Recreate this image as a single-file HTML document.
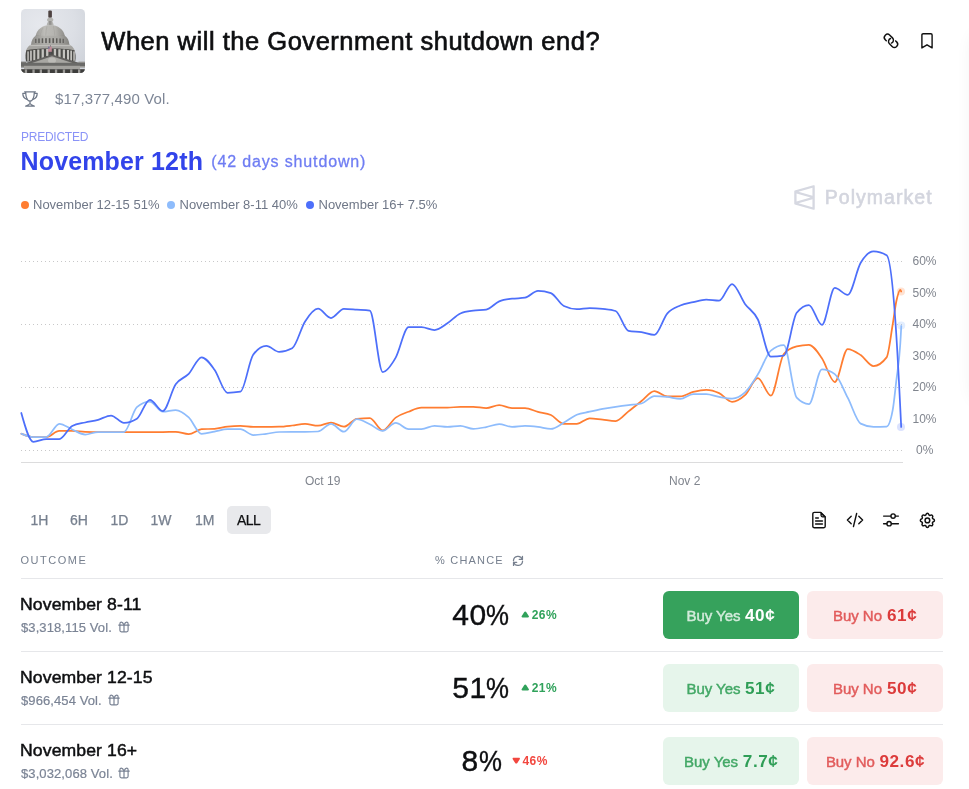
<!DOCTYPE html>
<html lang="en"><head><meta charset="utf-8"><title>When will the Government shutdown end?</title>
<style>
*{box-sizing:border-box;margin:0;padding:0}
html,body{width:969px;height:789px;background:#fff;overflow:hidden}
body{position:relative;font-family:"Liberation Sans",sans-serif;color:#0e0f11}
.abs{position:absolute;white-space:nowrap;line-height:1}
.title{left:101.3px;top:28.7px;font-size:25.5px;letter-spacing:.52px;color:#0e0f11;-webkit-text-stroke:.65px #0e0f11}
.vol{left:55px;top:91px;font-size:15px;letter-spacing:.14px;color:#7d8696}
.pred{left:21px;top:131px;font-size:12px;color:#8a93f7;letter-spacing:-.25px}
.date{left:20.5px;top:148.8px;font-size:25px;font-weight:700;color:#3244ea;letter-spacing:.15px;transform:scaleY(1.055);transform-origin:0 84%}
.days{left:211.3px;top:153.9px;font-size:16px;color:#6f7df3;letter-spacing:.85px;-webkit-text-stroke:.3px #6f7df3}
.leg{top:198px;font-size:13px;color:#6f7787}
.dot{position:absolute;width:8px;height:8px;border-radius:50%;top:201px}
.wm{left:824.7px;top:187.7px;font-size:19.5px;font-weight:400;color:#d3d5de;letter-spacing:1.05px;-webkit-text-stroke:.6px #d3d5de}
.ax{font-size:12px;color:#80858e}
.tb{top:513px;font-size:14px;color:#77808f;-webkit-text-stroke:.25px #77808f}
.all{position:absolute;left:227px;top:506px;width:43.5px;height:28px;border-radius:5px;background:#e8e9ec}
.th{top:555px;font-size:11px;letter-spacing:1.5px;color:#77808f}
.hr{position:absolute;left:21px;width:922px;height:1px;background:#e6e7ea}
.name{left:20.3px;font-size:16px;letter-spacing:.1px;transform:scaleX(1.1);transform-origin:0 50%;color:#0e0f11;-webkit-text-stroke:.45px #0e0f11}
.sub{left:21px;font-size:13px;letter-spacing:.1px;color:#7b8495;-webkit-text-stroke:.2px #7b8495}
.pct i{font-style:normal;display:inline-block;transform:scaleX(.86);transform-origin:0 50%}
.pct{font-size:30px;letter-spacing:.4px;color:#0e0f11;-webkit-text-stroke:.4px #0e0f11}
.chg{font-size:12px;font-weight:700;letter-spacing:.45px}
.g{color:#30a25b} .r{color:#f2473f}
.btn{position:absolute;width:136px;height:48px;border-radius:6px;display:flex;align-items:center;justify-content:center;white-space:nowrap;font-size:15px;font-weight:400;-webkit-text-stroke:.45px;padding-top:.6px;letter-spacing:-.05px}
.btn b{font-size:16px;letter-spacing:.5px;margin:0 .8px 0 6px;font-weight:700;-webkit-text-stroke:0;display:inline-block;transform:scaleX(1.07);position:relative;top:.9px}
.yes{left:663px;background:#e6f5eb;color:#43a866} .yes b{color:#2f9e57}
.yes.on{background:#36a25c;color:#d3ebdb} .yes.on b{color:#fff}
.no{left:807px;background:#fcebeb;color:#e25c5c} .no b{color:#dc3b3b}
svg{position:absolute;overflow:visible}
</style></head><body>

<!-- right edge faint shadow of neighbouring card -->
<div style="position:absolute;left:973px;top:34px;width:40px;height:366px;border-radius:10px;box-shadow:0 0 18px rgba(0,0,0,.07)"></div>

<svg style="left:21px;top:9px" width="64" height="64" viewBox="0 0 64 64">
<defs>
<clipPath id="cp"><rect width="64" height="64" rx="4.500"/></clipPath>
<radialGradient id="sky" cx=".3" cy=".25" r=".9"><stop offset="0" stop-color="#e6e8ed"/><stop offset=".6" stop-color="#dcdfe5"/><stop offset="1" stop-color="#cfd3da"/></radialGradient>
<linearGradient id="dm" x1="0" y1="0" x2="1" y2="0"><stop offset="0" stop-color="#9c9b97"/><stop offset=".3" stop-color="#bdbcb8"/><stop offset=".65" stop-color="#b5b4b0"/><stop offset="1" stop-color="#8f8e8a"/></linearGradient>
<linearGradient id="dr" x1="0" y1="0" x2="1" y2="0"><stop offset="0" stop-color="#8e8d89"/><stop offset=".35" stop-color="#b3b2ae"/><stop offset=".7" stop-color="#a9a8a4"/><stop offset="1" stop-color="#84837f"/></linearGradient>
<filter id="bl" x="-10%" y="-10%" width="120%" height="120%"><feGaussianBlur stdDeviation=".6"/></filter>
</defs>
<g clip-path="url(#cp)">
<rect width="64" height="64" fill="url(#sky)"/>
<g filter="url(#bl)">
<!-- statue -->
<rect x="27.300" y="1.500" width="3.600" height="7.400" rx="1.100" fill="#4d4241"/>
<!-- lantern -->
<path d="M25.700 16.600c.2-2 .9-3.300 1.500-3.800c-1.300-.700-1.800-2.700-.2-3.600c.300-.500 1-.800 2.200-.800s1.900.300 2.200.800c1.600.900 1.100 2.900-.2 3.600c.600.500 1.300 1.800 1.500 3.800z" fill="#b3b3b0"/>
<rect x="27.900" y="12" width="2.600" height="3.800" fill="#93928f"/>
<!-- dome -->
<path d="M14.600 27.400C15.400 20.600 21.500 16 29.200 16s13.800 4.600 14.700 11.400z" fill="url(#dm)"/>
<g stroke="#a2a19d" stroke-width=".5" fill="none"><path d="M22 18.800c-1.500 2.400-2.400 5.200-2.700 8M26 17.200c-.8 3-1.200 6.200-1.300 9.600M32.400 17.200c.8 3 1.200 6.200 1.300 9.600M36.400 18.800c1.500 2.400 2.400 5.200 2.700 8"/></g>
<path d="M14.800 26.800c4.400 1.300 24.400 1.300 28.900 0" stroke="#8b8a86" stroke-width="1" fill="none"/>
<!-- upper drum -->
<path d="M10 36c.2-4.400 2.200-7.600 4.600-9.200h29.200c2.600 1.600 4.400 4.800 4.600 9.200z" fill="url(#dr)"/>
<g fill="#5b5a57"><rect x="14.200" y="29.800" width="1.200" height="4.200"/><rect x="17.300" y="29.500" width="1.400" height="4.600"/><rect x="20.700" y="29.300" width="1.500" height="4.800"/><rect x="24.200" y="29.200" width="1.600" height="4.900"/><rect x="27.800" y="29.200" width="1.600" height="4.900"/><rect x="31.400" y="29.200" width="1.600" height="4.900"/><rect x="35" y="29.300" width="1.500" height="4.800"/><rect x="38.400" y="29.500" width="1.400" height="4.600"/><rect x="41.600" y="29.800" width="1.200" height="4.200"/></g>
<!-- cornice -->
<path d="M4.800 42c1-3.400 3.400-5.800 5.200-6.600h38.400c1.800.8 4.400 3.200 5.600 6.600z" fill="#a5a4a0"/>
<path d="M8.600 36.600h41.200" stroke="#c2c1bd" stroke-width="1"/>
<!-- peristyle -->
<path d="M5 52.400c-.8-4.400-.6-8.400.4-11.200c8-2.400 40-2.400 48 0c1.200 2.800 1.600 6.800.8 11.200z" fill="#4c4b48"/>
<g fill="#c4c3bf"><rect x="6.300" y="42.400" width="1.500" height="9.400"/><rect x="9.100" y="41.600" width="1.700" height="10.200"/><rect x="12.300" y="41" width="2" height="10.400"/><rect x="16.200" y="40.500" width="2.200" height="10"/><rect x="20.600" y="40.200" width="2.300" height="8.800"/><rect x="25.100" y="40" width="2.300" height="7"/><rect x="32.800" y="40" width="2.300" height="7"/><rect x="37.300" y="40.200" width="2.300" height="8.800"/><rect x="41.800" y="40.500" width="2.200" height="10"/><rect x="46" y="41" width="2" height="10.400"/><rect x="49.300" y="41.600" width="1.700" height="10.200"/><rect x="52.300" y="42.400" width="1.500" height="9.400"/></g>
<!-- flag -->
<rect x="29.100" y="36" width=".5" height="10" fill="#55565c"/>
<rect x="27" y="37.600" width="3.800" height="5.200" fill="#c08a96"/><rect x="27" y="37.600" width="1.600" height="2.200" fill="#737896"/>
<!-- wings -->
<rect x="0" y="52.600" width="5" height="6" fill="#7c7b78"/><rect x="57.500" y="52.600" width="6.500" height="6" fill="#9a9996"/>
<!-- pediment -->
<path d="M3 54.600L31 45.400L60 54.600z" fill="#62615e"/>
<path d="M9.500 54.400L31 47.200L53 54.400z" fill="#a8a7a3"/>
<ellipse cx="31" cy="51.400" rx="4" ry="3" fill="#bcbbb7"/>
<!-- entablature -->
<rect x="0" y="53.800" width="64" height="3.200" fill="#6b6a67"/>
<rect x="3" y="56.800" width="56" height="3.600" fill="#a3a29e"/>
<rect x="0" y="60.200" width="64" height="3.800" fill="#3d3c3a"/>
<g fill="#9c9b98"><rect x="3.800" y="60.400" width="2.300" height="3.600"/><rect x="11.400" y="60.400" width="2.300" height="3.600"/><rect x="18.700" y="60.400" width="2.300" height="3.600"/><rect x="26.600" y="60.400" width="2.300" height="3.600"/><rect x="33.900" y="60.400" width="2.300" height="3.600"/><rect x="41.800" y="60.400" width="2.300" height="3.600"/><rect x="49.100" y="60.400" width="2.300" height="3.600"/><rect x="57" y="60.400" width="2.300" height="3.600"/></g>
</g>
</g>
</svg>


<div class="abs title">When will the Government shutdown end?</div>

<!-- link + bookmark icons -->
<svg style="left:879px;top:29px" width="24" height="24" viewBox="0 0 24 24" fill="none" stroke="#111" stroke-width="1.45" stroke-linecap="round" stroke-linejoin="round">
<path transform="translate(9.9 9.8) rotate(45)" d="M-0.50 3.2L-1.9 3.2A3.2 3.2 0 0 1 -1.9 -3.2L1.9 -3.2A3.2 3.2 0 0 1 4.85 1.25"/>
<path transform="translate(14.05 13.8) rotate(225)" d="M-0.50 3.2L-1.9 3.2A3.2 3.2 0 0 1 -1.9 -3.2L1.9 -3.2A3.2 3.2 0 0 1 4.85 1.25"/>
</svg>
<svg style="left:921px;top:33px" width="12" height="16" viewBox="0 0 12 16" fill="none" stroke="#111" stroke-width="1.4" stroke-linejoin="round">
<path d="M.9 1.9a1.2 1.2 0 0 1 1.2-1.2h7.8a1.2 1.2 0 0 1 1.2 1.2v13l-5.1-3.1l-5.1 3.1z"/>
</svg>

<!-- trophy -->
<svg style="left:22px;top:91px" width="16" height="16" viewBox="0 0 16 16" fill="none" stroke="#6f7887" stroke-width="1.25" stroke-linecap="round" stroke-linejoin="round">
<path d="M2.600 .9H13.400M3.600 .9C3.800 5 4.800 10.200 8 10.200S12.200 5 12.400 .9"/>
<path d="M3.500 2.300H.8C.8 5.200 2 7.600 5 8.300M12.500 2.300H15.200C15.200 5.200 14 7.600 11 8.300"/>
<path d="M8 10.200V12.600M8 12.400C7.600 13.600 5.600 14.400 3.700 15.200H12.300C10.400 14.400 8.400 13.600 8 12.400z"/>
</svg>
<div class="abs vol">$17,377,490 Vol.</div>

<div class="abs pred">PREDICTED</div>
<div class="abs date">November 12th</div>
<div class="abs days">(42 days shutdown)</div>

<span class="dot" style="left:21px;background:#ff7d31"></span><div class="abs leg" style="left:33px">November 12-15 51%</div>
<span class="dot" style="left:167px;background:#8ebcfc"></span><div class="abs leg" style="left:179.5px">November 8-11 40%</div>
<span class="dot" style="left:306px;background:#4d6ffa"></span><div class="abs leg" style="left:318.5px">November 16+ 7.5%</div>

<!-- watermark -->
<svg style="left:794px;top:184.5px" width="21" height="25" viewBox="108 94 270 324"><path fill="#d6d8e1" fill-rule="evenodd" d="M375.84 389.422C375.84 403.572 375.84 410.647 371.212 414.154C366.585 417.662 359.773 415.75 346.15 411.927L127.22 350.493C119.012 348.19 114.907 347.038 112.534 343.907C110.161 340.776 110.161 336.513 110.161 327.988V184.012C110.161 175.487 110.161 171.224 112.534 168.093C114.907 164.962 119.012 163.81 127.22 161.507L346.15 100.072C359.773 96.2495 366.585 94.338 371.212 97.8455C375.84 101.353 375.84 108.428 375.84 122.578V389.422ZM164.761 330.463L346.035 381.337V279.595L164.761 330.463ZM139.963 306.862L321.201 256L139.963 205.138V306.862ZM164.759 181.537L346.035 232.406V130.663L164.759 181.537Z"/></svg>
<div class="abs wm">Polymarket</div>

<!-- chart -->
<svg style="left:0;top:0" width="969" height="789" viewBox="0 0 969 789" fill="none">
<g stroke="#c8c8c9" stroke-width="1" stroke-dasharray="1 3">
<path d="M21 261.5H903M21 324.5H903M21 387.5H903M21 450.5H903"/>
</g>
<path d="M21 462.5H903" stroke="#dcdcdd" stroke-width="1"/>
<g stroke-width="1.75" stroke-linejoin="round" stroke-linecap="round">
<path stroke="#ff7d31" d="M21.3,433.7C25.3,435.3,29.4,437.0,33.4,437.0C37.7,437.0,42.0,437.0,46.3,437.0C50.7,437.0,55.0,430.9,59.3,430.9C63.6,430.9,67.9,430.9,72.2,430.9C76.5,430.9,80.8,431.7,85.2,431.8C89.5,431.9,93.8,432.0,98.1,432.0C102.4,432.0,106.7,432.0,111.0,432.0C115.3,432.0,119.7,432.0,124.0,432.0C128.3,432.0,132.6,432.0,136.9,432.0C141.2,432.0,145.5,432.0,149.8,432.0C154.2,432.0,158.5,432.0,162.8,432.0C167.1,432.0,171.4,431.8,175.7,431.8C180.0,431.8,184.3,434.1,188.7,434.1C193.0,434.1,197.3,429.5,201.6,429.2C205.9,428.9,210.2,429.1,214.5,428.8C218.8,428.5,223.2,427.2,227.5,426.7C231.8,426.2,236.1,425.9,240.4,425.9C244.7,425.9,249.0,426.9,253.3,426.9C257.7,426.9,262.0,426.9,266.3,426.9C270.6,426.9,274.9,426.8,279.2,426.7C283.5,426.6,287.8,426.0,292.2,425.5C296.5,425.0,300.8,423.9,305.1,423.9C309.4,423.9,313.7,425.7,318.0,425.7C322.3,425.7,326.7,422.6,331.0,422.6C335.3,422.6,339.6,426.7,343.9,426.7C348.2,426.7,352.5,419.3,356.8,418.8C361.2,418.3,365.5,418.0,369.8,418.0C374.1,418.0,378.4,430.4,382.7,430.4C387.0,430.4,391.4,420.7,395.7,417.6C400.0,414.5,404.3,413.3,408.6,411.7C412.9,410.0,417.2,407.7,421.5,407.7C425.9,407.7,430.2,407.7,434.5,407.7C438.8,407.7,443.1,407.7,447.4,407.7C451.7,407.7,456.0,406.8,460.4,406.8C464.7,406.8,469.0,406.8,473.3,406.8C477.6,406.8,481.9,408.1,486.2,408.1C490.5,408.1,494.9,405.1,499.2,405.1C503.5,405.1,507.8,408.1,512.1,408.1C516.4,408.1,520.7,408.1,525.0,408.1C529.4,408.1,533.7,410.8,538.0,411.9C542.3,413.0,546.6,413.0,550.9,415.0C555.2,417.0,559.5,423.8,563.9,423.8C568.2,423.8,572.5,423.8,576.8,423.8C581.1,423.8,585.4,418.3,589.7,418.3C594.0,418.3,598.4,419.2,602.7,419.6C607.0,420.1,611.3,421.0,615.6,421.0C619.9,421.0,624.2,414.7,628.5,411.4C632.9,408.1,637.2,404.4,641.5,401.0C645.8,397.6,650.1,391.1,654.4,391.1C658.7,391.1,663.0,396.4,667.4,396.4C671.7,396.4,676.0,396.4,680.3,396.4C684.6,396.4,688.9,393.0,693.2,391.9C697.6,390.8,701.9,389.8,706.2,389.8C710.5,389.8,714.8,391.1,719.1,393.1C723.4,395.1,727.7,401.8,732.1,401.8C736.4,401.8,740.7,399.1,745.0,395.2C749.3,391.3,753.6,378.2,757.9,378.2C762.2,378.2,766.6,395.7,770.9,395.7C775.2,395.7,779.5,359.1,783.8,354.0C788.1,348.9,792.4,347.5,796.7,346.4C800.8,345.3,804.9,344.8,808.9,344.8C813.2,344.8,817.6,352.0,821.9,358.2C826.2,364.4,830.5,382.0,834.8,382.0C839.1,382.0,843.4,349.0,847.7,349.0C852.1,349.0,856.4,352.2,860.7,355.1C865.0,358.0,869.3,366.1,873.6,366.1C877.9,366.1,882.2,363.2,886.6,357.4C888.6,354.7,890.6,337.0,892.6,325.0C893.9,317.5,895.1,306.9,896.4,301.0C897.7,295.1,898.9,289.8,900.2,289.8C900.5,289.8,900.9,290.6,901.2,291.5"/>
<path stroke="#8ebcfc" d="M21.3,433.7C25.3,435.3,29.4,437.0,33.4,437.0C37.7,437.0,42.0,437.0,46.3,437.0C50.7,437.0,55.0,423.8,59.3,423.8C63.6,423.8,67.9,427.7,72.2,429.5C76.5,431.3,80.8,434.5,85.2,434.5C89.5,434.5,93.8,432.0,98.1,432.0C102.4,432.0,106.7,432.0,111.0,432.0C115.3,432.0,119.7,432.0,124.0,432.0C128.3,432.0,132.6,411.0,136.9,407.2C141.2,403.4,145.5,401.5,149.8,401.5C154.2,401.5,158.5,411.7,162.8,411.7C167.1,411.7,171.4,410.0,175.7,410.0C180.0,410.0,184.3,413.3,188.7,417.3C193.0,421.3,197.3,433.8,201.6,433.8C205.9,433.8,210.2,432.4,214.5,431.6C218.8,430.8,223.2,429.2,227.5,429.2C231.8,429.2,236.1,429.2,240.4,429.2C244.7,429.2,249.0,435.1,253.3,435.1C257.7,435.1,262.0,434.3,266.3,433.8C270.6,433.3,274.9,432.1,279.2,432.0C283.5,431.9,287.8,431.8,292.2,431.8C296.5,431.8,300.8,431.8,305.1,431.8C309.4,431.8,313.7,431.7,318.0,431.5C322.3,431.3,326.7,423.8,331.0,423.8C335.3,423.8,339.6,431.7,343.9,431.7C348.2,431.7,352.5,419.1,356.8,419.1C361.2,419.1,365.5,422.3,369.8,424.3C374.1,426.3,378.4,430.9,382.7,430.9C387.0,430.9,391.4,422.9,395.7,422.9C400.0,422.9,404.3,429.0,408.6,429.0C412.9,429.0,417.2,429.0,421.5,429.0C425.9,429.0,430.2,425.9,434.5,425.9C438.8,425.9,443.1,426.9,447.4,426.9C451.7,426.9,456.0,425.9,460.4,425.9C464.7,425.9,469.0,428.9,473.3,428.9C477.6,428.9,481.9,427.9,486.2,427.1C490.5,426.3,494.9,424.1,499.2,424.1C503.5,424.1,507.8,426.9,512.1,426.9C516.4,426.9,520.7,425.9,525.0,425.9C529.4,425.9,533.7,426.4,538.0,426.9C542.3,427.4,546.6,428.9,550.9,428.9C555.2,428.9,559.5,425.0,563.9,422.6C568.2,420.2,572.5,416.5,576.8,414.7C581.1,412.9,585.4,412.7,589.7,411.7C594.0,410.7,598.4,409.7,602.7,408.9C607.0,408.1,611.3,407.4,615.6,406.8C619.9,406.2,624.2,405.7,628.5,405.1C632.9,404.6,637.2,404.6,641.5,403.5C645.8,402.4,650.1,396.0,654.4,396.0C658.7,396.0,663.0,396.4,667.4,396.9C671.7,397.4,676.0,398.9,680.3,398.9C684.6,398.9,688.9,394.1,693.2,394.1C697.6,394.1,701.9,394.1,706.2,394.1C710.5,394.1,714.8,396.2,719.1,396.9C723.4,397.6,727.7,398.5,732.1,398.5C736.4,398.5,740.7,396.4,745.0,392.4C749.3,388.4,753.6,381.3,757.9,374.3C762.2,367.3,766.6,354.2,770.9,350.6C775.2,347.0,779.5,345.2,783.8,345.2C788.1,345.2,792.4,393.2,796.7,397.7C800.8,402.0,804.9,404.1,808.9,404.1C813.2,404.1,817.6,369.3,821.9,369.3C826.2,369.3,830.5,370.9,834.8,374.1C839.1,377.3,843.4,389.4,847.7,397.7C852.1,405.9,856.4,421.4,860.7,423.6C865.0,425.8,869.3,426.9,873.6,426.9C877.9,426.9,882.2,426.8,886.6,426.6C888.6,426.5,890.6,421.3,892.6,410.7C893.9,404.0,895.1,390.9,896.4,380.0C897.7,369.0,898.9,364.6,900.2,345.0C900.6,339.3,900.9,332.7,901.3,326.0"/>
<path stroke="#4d6ffa" d="M21.3,413.0C25.3,427.4,29.4,441.9,33.4,441.9C37.7,441.9,42.0,439.0,46.3,439.0C50.7,439.0,55.0,439.0,59.3,439.0C63.6,439.0,67.9,428.2,72.2,425.9C76.5,423.6,80.8,423.5,85.2,422.5C89.5,421.5,93.8,421.0,98.1,419.8C102.4,418.6,106.7,415.5,111.0,415.5C115.3,415.5,119.7,422.9,124.0,422.9C128.3,422.9,132.6,421.5,136.9,418.8C141.2,416.1,145.5,399.8,149.8,399.8C154.2,399.8,158.5,411.0,162.8,411.0C167.1,411.0,171.4,390.5,175.7,384.3C180.0,378.1,184.3,378.4,188.7,373.9C193.0,369.4,197.3,357.3,201.6,357.3C205.9,357.3,210.2,363.8,214.5,369.7C218.8,375.6,223.2,392.8,227.5,392.8C231.8,392.8,236.1,392.4,240.4,391.7C244.7,391.0,249.0,360.2,253.3,354.5C257.7,348.8,262.0,345.9,266.3,345.9C270.6,345.9,274.9,351.9,279.2,351.9C283.5,351.9,287.8,350.7,292.2,348.3C296.5,345.9,300.8,328.0,305.1,321.4C309.4,314.8,313.7,308.7,318.0,308.7C322.3,308.7,326.7,318.0,331.0,318.0C335.3,318.0,339.6,308.9,343.9,308.9C348.2,308.9,352.5,309.4,356.8,309.7C361.2,310.0,365.5,310.0,369.8,310.7C374.1,311.4,378.4,372.0,382.7,372.0C387.0,372.0,391.4,365.1,395.7,357.6C400.0,350.1,404.3,327.1,408.6,327.1C412.9,327.1,417.2,327.1,421.5,327.1C425.9,327.1,430.2,330.0,434.5,330.0C438.8,330.0,443.1,326.1,447.4,323.3C451.7,320.6,456.0,315.4,460.4,313.5C464.7,311.6,469.0,311.3,473.3,310.7C477.6,310.1,481.9,310.3,486.2,309.6C490.5,308.9,494.9,303.2,499.2,301.4C503.5,299.6,507.8,299.3,512.1,298.7C516.4,298.1,520.7,298.4,525.0,297.7C529.4,297.0,533.7,290.8,538.0,290.8C542.3,290.8,546.6,291.6,550.9,293.1C555.2,294.6,559.5,303.9,563.9,306.0C568.2,308.1,572.5,309.1,576.8,309.1C581.1,309.1,585.4,308.0,589.7,308.0C594.0,308.0,598.4,308.3,602.7,308.8C607.0,309.3,611.3,309.5,615.6,311.0C619.9,312.5,624.2,329.9,628.5,330.8C632.9,331.7,637.2,331.4,641.5,332.1C645.8,332.8,650.1,334.9,654.4,334.9C658.7,334.9,663.0,318.2,667.4,313.3C671.7,308.4,676.0,307.4,680.3,305.5C684.6,303.6,688.9,303.2,693.2,302.2C697.6,301.2,701.9,299.7,706.2,299.7C710.5,299.7,714.8,300.7,719.1,300.7C723.4,300.7,727.7,284.0,732.1,284.0C736.4,284.0,740.7,298.0,745.0,303.9C749.3,309.8,753.6,310.7,757.9,319.5C762.2,328.3,766.6,356.7,770.9,356.7C775.2,356.7,779.5,356.3,783.8,355.6C788.1,354.9,792.4,318.3,796.7,312.8C800.8,307.6,804.9,305.0,808.9,305.0C813.2,305.0,817.6,324.9,821.9,324.9C826.2,324.9,830.5,287.9,834.8,287.9C839.1,287.9,843.4,294.8,847.7,294.8C852.1,294.8,856.4,270.0,860.7,262.8C865.0,255.6,869.3,251.4,873.6,251.4C877.9,251.4,882.2,252.7,886.6,255.2C889.7,257.0,892.9,283.3,896.0,330.0C897.7,355.7,899.5,391.4,901.2,427.0"/>
</g>
<circle cx="901" cy="291.5" r="4" fill="#ff7d31" fill-opacity=".22"/>
<circle cx="901.2" cy="325.5" r="4" fill="#8ebcfc" fill-opacity=".25"/>
<circle cx="901" cy="427" r="4" fill="#4d6ffa" fill-opacity=".2"/>
</svg>
<div class="abs ax" style="left:912.5px;top:255px">60%</div>
<div class="abs ax" style="left:912.5px;top:286.5px">50%</div>
<div class="abs ax" style="left:912.5px;top:318px">40%</div>
<div class="abs ax" style="left:912.5px;top:349.5px">30%</div>
<div class="abs ax" style="left:912.5px;top:381px">20%</div>
<div class="abs ax" style="left:912.5px;top:412.5px">10%</div>
<div class="abs ax" style="left:916px;top:444px">0%</div>
<div class="abs ax" style="left:305px;top:475px">Oct 19</div>
<div class="abs ax" style="left:669px;top:475px">Nov 2</div>

<!-- range buttons -->
<div class="all"></div>
<div class="abs tb" style="left:30.5px">1H</div>
<div class="abs tb" style="left:70px">6H</div>
<div class="abs tb" style="left:110.5px">1D</div>
<div class="abs tb" style="left:150.5px">1W</div>
<div class="abs tb" style="left:195px">1M</div>
<div class="abs tb" style="left:237px;color:#0e0f11;-webkit-text-stroke:.25px #0e0f11;letter-spacing:-.5px">ALL</div>

<!-- toolbar icons -->
<svg style="left:811px;top:511px" width="16" height="18" viewBox="0 0 16 18" fill="none" stroke="#111" stroke-width="1.4" stroke-linecap="round" stroke-linejoin="round">
<path d="M1.8 3a1.6 1.6 0 0 1 1.6-1.6h6.4l4.4 4.4v9.4a1.6 1.6 0 0 1-1.6 1.6H3.4a1.6 1.6 0 0 1-1.6-1.6z"/>
<path d="M10 1.8v2.4a1.6 1.6 0 0 0 1.6 1.6h2.400z" fill="#8a8a8a" stroke-width="1.2"/>
<path d="M4.700 7h2.600M4.600 10h6.800M4.600 12.900h6.800" stroke-width="1.5"/>
</svg>
<svg style="left:846px;top:512px" width="18" height="16" viewBox="0 0 18 16" fill="none" stroke="#111" stroke-width="1.4" stroke-linecap="round" stroke-linejoin="round">
<path d="M5.2 4.2L1.4 8l3.8 3.8M12.8 4.2L16.600 8l-3.8 3.8M10.650 1.5L7.450 14.500"/>
</svg>
<svg style="left:882px;top:512px" width="18" height="16" viewBox="0 0 18 16" fill="none" stroke="#111" stroke-width="1.4" stroke-linecap="round">
<path d="M1.600 4.100h7.200M13.400 4.100h3M1.600 11.700h3.200M9.400 11.700h7"/>
<circle cx="11.100" cy="4.100" r="2.200"/><circle cx="7.100" cy="11.700" r="2.200"/>
</svg>
<svg style="left:917.600px;top:510.900px" width="18.800" height="18.800" viewBox="0 0 24 24" fill="none" stroke="#111" stroke-width="1.9" stroke-linecap="round" stroke-linejoin="round">
<path d="M10.325 4.317c.426-1.756 2.924-1.756 3.350 0a1.724 1.724 0 0 0 2.573 1.066c1.543-.940 3.310.826 2.370 2.370a1.724 1.724 0 0 0 1.065 2.572c1.756.426 1.756 2.924 0 3.350a1.724 1.724 0 0 0-1.066 2.573c.940 1.543-.826 3.310-2.370 2.370a1.724 1.724 0 0 0-2.572 1.065c-.426 1.756-2.924 1.756-3.350 0a1.724 1.724 0 0 0-2.573-1.066c-1.543.940-3.310-.826-2.370-2.370a1.724 1.724 0 0 0-1.065-2.572c-1.756-.426-1.756-2.924 0-3.350a1.724 1.724 0 0 0 1.066-2.573c-.940-1.543.826-3.310 2.370-2.370c1 .608 2.296.070 2.572-1.065z"/>
<circle cx="12" cy="12" r="3"/>
</svg>

<!-- table head -->
<div class="abs th" style="left:20.5px">OUTCOME</div>
<div class="abs th" style="left:435px;letter-spacing:1.2px">% CHANCE</div>
<svg style="left:512px;top:555px" width="12" height="12" viewBox="0 0 12 12" fill="none" stroke="#77808f" stroke-width="1.3" stroke-linecap="round" stroke-linejoin="round">
<path d="M1.46 5.58A4.55 4.55 0 0 1 10.30 4.42M10.54 6.22A4.55 4.55 0 0 1 1.70 7.38"/>
<path d="M10.450 1.400V4.450H7.300M1.550 10.400V7.350H4.700"/>
</svg>
<div class="hr" style="top:578px"></div>

<div class="abs name" style="top:596.5px">November 8-11</div>
<div class="abs sub" style="top:620.6px">$3,318,115 Vol.</div>
<svg style="left:118px;top:621.1px" width="12" height="12" viewBox="0 0 12 12" fill="none" stroke="#7b8495" stroke-width="1.2" stroke-linejoin="round" stroke-linecap="round">
<path d="M.7 4.100H11.300M1.900 4.100V9.300a1.500 1.500 0 0 0 1.500 1.500h5.200a1.500 1.500 0 0 0 1.500-1.500V4.100M6 3.600V10.800"/>
<path d="M6 4.100C5.200 2.200 4.400 1.200 3.400 1.200C2.400 1.200 1.900 1.900 1.900 2.700V4.100M6 4.100C6.800 2.200 7.600 1.200 8.600 1.200C9.600 1.200 10.100 1.900 10.100 2.700V4.100"/>
</svg>
<div class="abs pct" style="left:452.3px;top:599.6px">40<i>%</i></div>
<svg style="left:521px;top:611.3px" width="8.5" height="7.2" viewBox="0 0 8.5 7.2"><path d="M4.25 .6c.5 0 .8.200 1.100.700l2.400 3.600c.500.800.100 1.500-.800 1.500H1.550c-.900 0-1.300-.700-.800-1.500l2.400-3.600c.300-.500.600-.700 1.100-.700z" fill="#30a25b"/></svg>
<div class="abs chg g" style="left:531.7px;top:608.8px">26%</div>
<div class="btn yes on" style="top:591px">Buy Yes<b>40¢</b></div>
<div class="btn no" style="top:591px">Buy No<b>61¢</b></div>
<div class="hr" style="top:651px"></div>

<div class="abs name" style="top:669.5px">November 12-15</div>
<div class="abs sub" style="top:693.6px">$966,454 Vol.</div>
<svg style="left:108.4px;top:694.1px" width="12" height="12" viewBox="0 0 12 12" fill="none" stroke="#7b8495" stroke-width="1.2" stroke-linejoin="round" stroke-linecap="round">
<path d="M.7 4.100H11.300M1.900 4.100V9.300a1.500 1.500 0 0 0 1.500 1.500h5.200a1.500 1.500 0 0 0 1.500-1.500V4.100M6 3.600V10.800"/>
<path d="M6 4.100C5.200 2.200 4.400 1.200 3.400 1.200C2.400 1.200 1.900 1.900 1.900 2.700V4.100M6 4.100C6.800 2.200 7.600 1.200 8.600 1.200C9.600 1.200 10.100 1.900 10.100 2.700V4.100"/>
</svg>
<div class="abs pct" style="left:452.3px;top:672.6px">51<i>%</i></div>
<svg style="left:521px;top:684.3px" width="8.5" height="7.2" viewBox="0 0 8.5 7.2"><path d="M4.25 .6c.5 0 .8.200 1.100.700l2.400 3.600c.500.800.100 1.500-.800 1.500H1.550c-.900 0-1.300-.700-.800-1.500l2.400-3.600c.300-.500.600-.700 1.100-.700z" fill="#30a25b"/></svg>
<div class="abs chg g" style="left:531.7px;top:681.8px">21%</div>
<div class="btn yes" style="top:664px">Buy Yes<b>51¢</b></div>
<div class="btn no" style="top:664px">Buy No<b>50¢</b></div>
<div class="hr" style="top:724px"></div>

<div class="abs name" style="top:742.5px">November 16+</div>
<div class="abs sub" style="top:766.6px">$3,032,068 Vol.</div>
<svg style="left:118px;top:767.1px" width="12" height="12" viewBox="0 0 12 12" fill="none" stroke="#7b8495" stroke-width="1.2" stroke-linejoin="round" stroke-linecap="round">
<path d="M.7 4.100H11.300M1.900 4.100V9.300a1.500 1.500 0 0 0 1.500 1.500h5.200a1.500 1.500 0 0 0 1.500-1.500V4.100M6 3.600V10.800"/>
<path d="M6 4.100C5.200 2.200 4.400 1.200 3.400 1.200C2.400 1.200 1.900 1.900 1.900 2.700V4.100M6 4.100C6.800 2.200 7.600 1.200 8.600 1.200C9.600 1.200 10.100 1.900 10.100 2.700V4.100"/>
</svg>
<div class="abs pct" style="left:461.5px;top:745.6px">8<i>%</i></div>
<svg style="left:512px;top:757.1999999999999px" width="8.5" height="7.2" viewBox="0 0 8.5 7.2"><path d="M4.25 6.600c.5 0 .8-.200 1.100-.700l2.400-3.600c.500-.800.100-1.500-.800-1.500H1.550c-.900 0-1.300.700-.800 1.500l2.400 3.600c.300.500.600.700 1.100.700z" fill="#f2473f"/></svg>
<div class="abs chg r" style="left:522.5px;top:754.8px">46%</div>
<div class="btn yes" style="top:737px">Buy Yes<b>7.7¢</b></div>
<div class="btn no" style="top:737px">Buy No<b>92.6¢</b></div>
</body></html>
